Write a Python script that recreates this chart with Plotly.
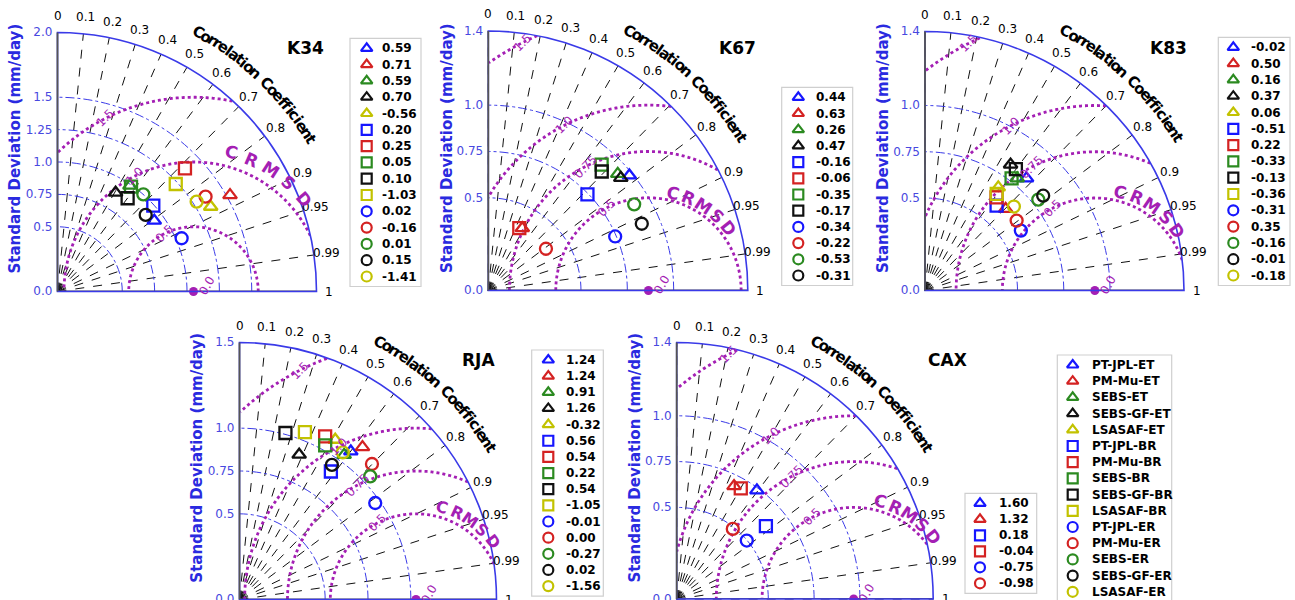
import numpy as np
import plotly.graph_objects as go

W, H = 1295, 600

# ---------------- data ----------------
models_all = ["PT-JPL-ET", "PM-Mu-ET", "SEBS-ET", "SEBS-GF-ET", "LSASAF-ET",
              "PT-JPL-BR", "PM-Mu-BR", "SEBS-BR", "SEBS-GF-BR", "LSASAF-BR",
              "PT-JPL-ER", "PM-Mu-ER", "SEBS-ER", "SEBS-GF-ER", "LSASAF-ER"]
models_k67 = ["PT-JPL-ET", "PM-Mu-ET", "SEBS-ET", "SEBS-GF-ET",
              "PT-JPL-BR", "PM-Mu-BR", "SEBS-BR", "SEBS-GF-BR",
              "PT-JPL-ER", "PM-Mu-ER", "SEBS-ER", "SEBS-GF-ER"]
models_cax = ["PT-JPL-ET", "PM-Mu-ET", "PT-JPL-BR", "PM-Mu-BR", "PT-JPL-ER", "PM-Mu-ER"]

k34_std = [0.926, 1.526, 0.990, 0.885, 1.352, 0.993, 1.369, 0.989, 0.901, 1.234, 1.043, 1.358, 1.001, 0.902, 1.279]
k34_corr = [0.807, 0.873, 0.565, 0.507, 0.875, 0.745, 0.719, 0.574, 0.601, 0.740, 0.919, 0.842, 0.662, 0.755, 0.840]
k34_bias = ["0.59", "0.71", "0.59", "0.70", "-0.56", "0.20", "0.25", "0.05", "0.10", "-1.03", "0.02", "-0.16", "0.01", "0.15", "-1.41"]
k34_ref = 1.05

k67_std = [0.982, 0.383, 0.940, 0.938, 0.745, 0.376, 0.914, 0.887, 0.744, 0.384, 0.914, 0.903]
k67_corr = [0.775, 0.479, 0.743, 0.762, 0.718, 0.445, 0.669, 0.690, 0.920, 0.810, 0.861, 0.917]
k67_bias = ["0.44", "0.63", "0.26", "0.47", "-0.16", "-0.06", "-0.35", "-0.17", "-0.34", "-0.22", "-0.53", "-0.31"]
k67_ref = 0.864

k83_std = [0.818, 0.620, 0.785, 0.823, 0.684, 0.600, 0.635, 0.766, 0.820, 0.650, 0.611, 0.623, 0.785, 0.819, 0.661]
k83_corr = [0.671, 0.703, 0.635, 0.562, 0.579, 0.645, 0.609, 0.611, 0.599, 0.596, 0.848, 0.795, 0.780, 0.780, 0.727]
k83_bias = ["-0.02", "0.50", "0.16", "0.37", "0.06", "-0.51", "0.22", "-0.33", "-0.13", "-0.36", "-0.31", "0.35", "-0.16", "-0.01", "-0.18"]
k83_ref = 0.918

rja_std = [1.081, 1.143, 1.042, 0.914, 1.087, 0.918, 1.075, 1.029, 1.008, 1.049, 0.972, 1.106, 1.048, 0.953, 1.049]
rja_corr = [0.601, 0.628, 0.586, 0.381, 0.514, 0.581, 0.465, 0.486, 0.266, 0.364, 0.815, 0.699, 0.728, 0.566, 0.575]
rja_bias = ["1.24", "1.24", "0.91", "1.26", "-0.32", "0.56", "0.54", "0.22", "0.54", "-1.05", "-0.01", "0.00", "-0.27", "0.02", "-1.56"]
rja_ref = 1.03

cax_std = [0.737, 0.691, 0.629, 0.698, 0.498, 0.490]
cax_corr = [0.594, 0.453, 0.774, 0.501, 0.768, 0.625]
cax_bias = ["1.60", "1.32", "0.18", "-0.04", "-0.75", "-0.98"]
cax_ref = 0.966

corr_ticks = [0, 0.1, 0.2, 0.3, 0.4, 0.5, 0.6, 0.7, 0.8, 0.9, 0.95, 0.99, 1]
corr_tick_text = ["0", "0.1", "0.2", "0.3", "0.4", "0.5", "0.6", "0.7", "0.8", "0.9", "0.95", "0.99", "1"]

k34_rticks = [0, 0.5, 0.75, 1.0, 1.25, 1.5, 2.0]
k34_rtext = ["0.0", "0.5", "0.75", "1.0", "1.25", "1.5", "2.0"]
k14_rticks = [0, 0.5, 0.75, 1.0, 1.4]
k14_rtext = ["0.0", "0.5", "0.75", "1.0", "1.4"]
rja_rticks = [0, 0.5, 0.75, 1.0, 1.5]
rja_rtext = ["0.0", "0.5", "0.75", "1.0", "1.5"]

k34_levels = [0.5, 1.0, 1.5]
std_levels = [0.5, 0.75, 1.0, 1.5]

# ---------------- styles ----------------
COLORS = {"PT-JPL": "#1616ff", "PM-Mu": "#d42222", "SEBS": "#2b8a20",
          "SEBS-GF": "#111111", "LSASAF": "#c2c200"}
SYMBOLS = {"ET": "triangle-up-open", "BR": "square-open", "ER": "circle-open"}
MAG = "#a41fb4"
BLUE = "#3a3ae8"
FONT = "DejaVu Sans"


def style(name):
    base, kind = name.rsplit("-", 1)
    return COLORS[base], SYMBOLS[kind]


panels = [
    dict(name="K34", models=models_all, std=k34_std, corr=k34_corr, bias=k34_bias, ref=k34_ref,
         rticks=k34_rticks, rtext=k34_rtext, levels=k34_levels,
         ox=57.5, oy=291.5, R=259, rmax=2.0, title=(305, 48),
         leg=dict(x0=350, x1=421, mx=366.7, tx=380, y0=48.3, dy=16.3),
         crm=dict(d=144, a0=75, a1=40, size=17)),
    dict(name="K67", models=models_k67, std=k67_std, corr=k67_corr, bias=k67_bias, ref=k67_ref,
         rticks=k14_rticks, rtext=k14_rtext, levels=std_levels,
         ox=488.3, oy=290.5, R=259.5, rmax=1.4, title=(737, 48),
         leg=dict(x0=781.7, x1=852.7, mx=798.3, tx=814, y0=97.3, dy=16.2),
         crm=dict(d=101, a0=76, a1=38, size=17)),
    dict(name="K83", models=models_all, std=k83_std, corr=k83_corr, bias=k83_bias, ref=k83_ref,
         rticks=k14_rticks, rtext=k14_rtext, levels=std_levels,
         ox=925, oy=290.5, R=259, rmax=1.4, title=(1168, 48),
         leg=dict(x0=1218.3, x1=1290, mx=1233.3, tx=1249, y0=47.3, dy=16.3),
         crm=dict(d=102, a0=76, a1=36, size=17)),
    dict(name="RJA", models=models_all, std=rja_std, corr=rja_corr, bias=rja_bias, ref=rja_ref,
         rticks=rja_rticks, rtext=rja_rtext, levels=std_levels,
         ox=239.5, oy=599.5, R=257, rmax=1.5, title=(478, 360),
         leg=dict(x0=531.7, x1=603.3, mx=548.3, tx=564, y0=360, dy=16.15),
         crm=dict(d=96, a0=74, a1=37, size=16)),
    dict(name="CAX", models=models_cax, std=cax_std, corr=cax_corr, bias=cax_bias, ref=cax_ref,
         rticks=k14_rticks, rtext=k14_rtext, levels=std_levels,
         ox=676.7, oy=599, R=256.5, rmax=1.4, title=(947, 360),
         leg=dict(x0=965, x1=1036.7, mx=980, tx=997, y0=503.3, dy=16.0),
         crm=dict(d=101, a0=75, a1=38, size=17)),
]

fig = go.Figure()
annotations = []
shapes = []


def px(p, r, theta_deg):
    s = p["R"] / p["rmax"]
    t = np.radians(theta_deg)
    return p["ox"] + r * s * np.cos(t), p["oy"] - r * s * np.sin(t)


def char_w(ch):
    if ch in "iljI.,:;":
        return 0.34
    if ch in "tfr ":
        return 0.45
    if ch in "mwMW":
        return 1.0
    if ch.isupper():
        return 0.76
    return 0.68


def arc_text(text, cx, cy, rad, a0, a1, size, color):
    ws = [char_w(c) for c in text]
    tot = sum(ws)
    cum = 0
    for ch, w in zip(text, ws):
        frac = (cum + w / 2) / tot
        cum += w
        if ch == " ":
            continue
        a = a0 - (a0 - a1) * frac
        ar = np.radians(a)
        annotations.append(dict(x=cx + rad * np.cos(ar), y=cy - rad * np.sin(ar), xref="x", yref="y",
                                text="<b>%s</b>" % ch, showarrow=False, textangle=90 - a,
                                xanchor="center", yanchor="middle",
                                font=dict(family=FONT, size=size, color=color)))


for k, p in enumerate(panels):
    sub = "polar" if k == 0 else "polar%d" % (k + 1)
    rmax, ref = p["rmax"], p["ref"]
    # CRMSD contours
    phi = np.linspace(0, np.pi, 600)
    for c in p["levels"]:
        xx = ref + c * np.cos(phi)
        yy = c * np.sin(phi)
        rr = np.hypot(xx, yy)
        th = np.degrees(np.arctan2(yy, xx))
        ok = (rr <= rmax) & (xx >= 0)
        r_plot = [float(v) if o else None for v, o in zip(rr, ok)]
        fig.add_trace(go.Scatterpolar(r=r_plot, theta=th, mode="lines", subplot=sub,
                                      line=dict(color=MAG, width=2.8, dash="dot"),
                                      showlegend=False, hoverinfo="skip"))
        # contour label
        lp = np.radians(117)
        lx, ly = ref + c * np.cos(lp), c * np.sin(lp)
        if lx >= 0 and np.hypot(lx, ly) <= rmax:
            X, Y = px(p, np.hypot(lx, ly), np.degrees(np.arctan2(ly, lx)))
            annotations.append(dict(x=X, y=Y, xref="x", yref="y",
                                    text="%.1f" % c if c in (1.0, 1.5) else "%g" % c,
                                    showarrow=False, textangle=-45,
                                    font=dict(family=FONT, size=12, color=MAG)))
    # bottom (corr = 1) axis line
    fig.add_trace(go.Scatterpolar(r=[0, rmax], theta=[0, 0], mode="lines", subplot=sub,
                                  line=dict(color="#555555", width=1.8), cliponaxis=False,
                                  showlegend=False, hoverinfo="skip"))
    # reference point
    fig.add_trace(go.Scatterpolar(r=[ref], theta=[0], mode="markers", subplot=sub, cliponaxis=False,
                                  marker=dict(color=MAG, size=9, symbol="circle"),
                                  showlegend=False, hoverinfo="skip"))
    X, Y = px(p, ref, 0)
    annotations.append(dict(x=X + 13, y=Y - 6, xref="x", yref="y", text="0.0", showarrow=False,
                            textangle=-60, font=dict(family=FONT, size=12, color=MAG)))
    # model points
    for m, s, c in zip(p["models"], p["std"], p["corr"]):
        col, sym = style(m)
        fig.add_trace(go.Scatterpolar(r=[s], theta=[np.degrees(np.arccos(c))], mode="markers",
                                      subplot=sub, name=m, showlegend=False,
                                      marker=dict(symbol=sym, size=12, color=col,
                                                  line=dict(color=col, width=2.3))))
    # polar layout
    fig.update_layout({sub: dict(
        domain=dict(x=[p["ox"] / W, (p["ox"] + p["R"]) / W],
                    y=[(H - p["oy"]) / H, (H - p["oy"] + p["R"]) / H]),
        sector=[0, 90], bgcolor="rgba(0,0,0,0)",
        angularaxis=dict(rotation=0, direction="counterclockwise", thetaunit="degrees",
                         tickmode="array",
                         tickvals=[float(np.degrees(np.arccos(c))) for c in corr_ticks],
                         ticktext=corr_tick_text, ticks="", showticklabels=False,
                         showgrid=True, gridcolor="#111111", griddash="dash", gridwidth=1.3,
                         showline=True, linecolor=BLUE, linewidth=1.6),
        radialaxis=dict(range=[0, rmax], angle=90, side="counterclockwise", tickangle=90,
                        tickmode="array", tickvals=p["rticks"], ticktext=p["rtext"], ticks="",
                        showgrid=True, gridcolor=BLUE, griddash="dashdot", gridwidth=1.3,
                        showline=True, linecolor="#555555", linewidth=1.8,
                        tickfont=dict(family=FONT, size=12, color="#4848e0")),
    )})
    # correlation tick labels around the arc
    for cv, ct in zip(corr_ticks, corr_tick_text):
        a = np.degrees(np.arccos(cv))
        rc = p["R"] + 17 - 4.5 * np.cos(np.radians(a))
        ar = np.radians(a)
        annotations.append(dict(x=p["ox"] + rc * np.cos(ar), y=p["oy"] - rc * np.sin(ar),
                                xref="x", yref="y", text=ct, showarrow=False,
                                xanchor="center", yanchor="middle",
                                font=dict(family=FONT, size=12, color="black")))
    # title
    annotations.append(dict(x=p["title"][0], y=p["title"][1], xref="x", yref="y",
                            text="<b>%s</b>" % p["name"], showarrow=False,
                            font=dict(family=FONT, size=17, color="black")))
    # y axis title
    annotations.append(dict(x=p["ox"] - 42, y=p["oy"] - p["R"] * 0.55, xref="x", yref="y",
                            text="<b>Standard Deviation (mm/day)</b>", showarrow=False, textangle=-90,
                            font=dict(family=FONT, size=15, color="#2a2ae0")))
    # Correlation Coefficient along arc
    arc_text("Correlation Coefficient", p["ox"], p["oy"], p["R"] + 36, 62.5, 30.5, 15, "black")
    # CRMSD label along contour
    cx, cy = px(p, ref, 0)
    cr = p["crm"]
    word = "CRMSD"
    for i, ch in enumerate(word):
        a = cr["a0"] - (cr["a0"] - cr["a1"]) * i / (len(word) - 1)
        ar = np.radians(a)
        annotations.append(dict(x=cx + cr["d"] * np.cos(ar), y=cy - cr["d"] * np.sin(ar),
                                xref="x", yref="y", text="<b>%s</b>" % ch, showarrow=False,
                                textangle=90 - a,
                                font=dict(family=FONT, size=cr["size"], color=MAG)))
    # legend box (values)
    lg = p["leg"]
    n = len(p["models"])
    shapes.append(dict(type="rect", xref="x", yref="y", x0=lg["x0"], x1=lg["x1"],
                       y0=lg["y0"] - 10, y1=lg["y0"] + (n - 1) * lg["dy"] + 10,
                       line=dict(color="#cfcfcf", width=1.2), fillcolor="white", layer="below"))
    for i, (m, b) in enumerate(zip(p["models"], p["bias"])):
        col, sym = style(m)
        yy = lg["y0"] + i * lg["dy"]
        fig.add_trace(go.Scatter(x=[lg["mx"]], y=[yy], mode="markers", xaxis="x", yaxis="y",
                                 marker=dict(symbol=sym, size=10, color=col, line=dict(color=col, width=2.2)),
                                 showlegend=False, hoverinfo="skip"))
        annotations.append(dict(x=lg["tx"], y=yy, xref="x", yref="y", text="<b>%s</b>" % b,
                                showarrow=False, xanchor="left", yanchor="middle",
                                font=dict(family=FONT, size=12, color="black")))

# names legend
nx0, nx1, nmx, ntx, ny0, ndy = 1057.3, 1171.7, 1072.7, 1090, 365, 16.2
shapes.append(dict(type="rect", xref="x", yref="y", x0=nx0, x1=nx1, y0=ny0 - 10,
                   y1=ny0 + (len(models_all) - 1) * ndy + 10,
                   line=dict(color="#cfcfcf", width=1.2), fillcolor="white", layer="below"))
for i, m in enumerate(models_all):
    col, sym = style(m)
    yy = ny0 + i * ndy
    fig.add_trace(go.Scatter(x=[nmx], y=[yy], mode="markers", xaxis="x", yaxis="y",
                             marker=dict(symbol=sym, size=10, color=col, line=dict(color=col, width=2.2)),
                             showlegend=False, hoverinfo="skip"))
    annotations.append(dict(x=ntx, y=yy, xref="x", yref="y", text="<b>%s</b>" % m,
                            showarrow=False, xanchor="left", yanchor="middle",
                            font=dict(family=FONT, size=12, color="black")))

fig.update_layout(
    width=W, height=H, autosize=False,
    margin=dict(l=0, r=0, t=0, b=0),
    paper_bgcolor="white", plot_bgcolor="rgba(0,0,0,0)",
    xaxis=dict(range=[0, W], domain=[0, 1], visible=False, fixedrange=True),
    yaxis=dict(range=[H, 0], domain=[0, 1], visible=False, fixedrange=True),
    annotations=annotations, shapes=shapes,
    showlegend=False,
    font=dict(family=FONT),
)

fig.write_html("out.html", config={"displayModeBar": False},
               post_script="document.body.style.margin='0px';document.body.style.overflow='hidden';")
